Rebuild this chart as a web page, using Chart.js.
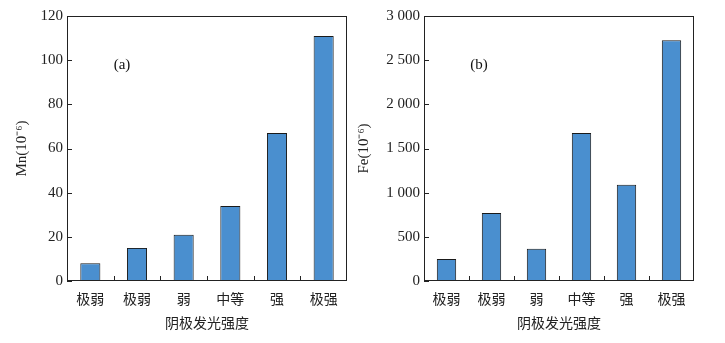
<!DOCTYPE html>
<html>
<head>
<meta charset="utf-8">
<script src="https://cdn.jsdelivr.net/npm/chart.js@4"></script>
<style>
  body { margin: 0; background: #fff; width: 725px; height: 343px; position: relative; overflow: hidden; }
  .box { position: absolute; top: 0; height: 343px; }
</style>
</head>
<body>
<div class="box" style="left:0;width:350px"><canvas id="chartMn"></canvas></div>
<div class="box" style="left:350px;width:375px"><canvas id="chartFe"></canvas></div>
<script>
// categories (cathodoluminescence intensity)
const categories = ['极弱', '极弱', '弱', '中等', '强', '极强'];

// values
const mnValues = [8, 15, 21, 34, 67, 111];
const feValues = [250, 770, 365, 1675, 1090, 2725];

const xTitle = '阴极发光强度';
const serif = '"Liberation Serif", "Noto Sans CJK SC", serif';
const cjk = '"Noto Sans CJK SC", "Liberation Serif", serif';

// frame box, inward ticks and the (a)/(b) letter
const frameTicks = {
  id: 'frameTicks',
  afterDatasetsDraw(chart, args, opts) {
    const {ctx, chartArea: a, scales: {x, y}} = chart;
    ctx.save();
    ctx.strokeStyle = '#222';
    ctx.lineWidth = 1;
    ctx.strokeRect(Math.round(a.left) + 0.5, Math.round(a.top) + 0.5,
                   Math.round(a.width) - 1, Math.round(a.height) - 1);
    ctx.beginPath();
    y.ticks.forEach(t => {
      const py = Math.round(y.getPixelForValue(t.value)) + 0.5;
      ctx.moveTo(a.left, py);
      ctx.lineTo(a.left + 5, py);
    });
    for (let i = 1; i < categories.length; i++) {
      const px = Math.round((x.getPixelForValue(i - 1) + x.getPixelForValue(i)) / 2) + 0.5;
      ctx.moveTo(px, a.bottom);
      ctx.lineTo(px, a.bottom - 5);
    }
    ctx.stroke();
    ctx.fillStyle = '#111';
    ctx.font = '15px ' + serif;
    ctx.textAlign = 'center';
    ctx.textBaseline = 'middle';
    ctx.fillText(opts.letter, a.left + 55, a.top + 49);
    ctx.restore();
  }
};

// yWidth / rightPad pin the plot area: Mn 67..347, Fe 424..694 (page coords)
function makeChart(id, values, yMax, yStep, yLabel, titlePad, yWidth, rightPad, letter) {
  const ctx = document.getElementById(id).getContext('2d');
  return new Chart(ctx, {
    type: 'bar',
    data: {
      labels: categories,
      datasets: [{
        data: values,
        backgroundColor: '#4a8fcf',
        borderColor: '#1a1a1a',
        borderWidth: 1,
        borderSkipped: false,
        categoryPercentage: 1,
        barPercentage: 0.43
      }]
    },
    options: {
      responsive: true,
      maintainAspectRatio: false,
      animation: false,
      layout: { padding: { top: 16, right: rightPad, bottom: 0, left: 0 } },
      plugins: {
        legend: { display: false },
        tooltip: { enabled: false },
        frameTicks: { letter: letter }
      },
      scales: {
        x: {
          grid: { display: false, drawTicks: false },
          border: { display: false },
          ticks: { color: '#222', font: { family: cjk, size: 14 }, padding: 9 },
          title: { display: true, text: xTitle, color: '#222',
                   font: { family: cjk, size: 14 }, padding: { top: 0, bottom: 12 } },
          afterFit(scale) { scale.height = 62; }
        },
        y: {
          min: 0,
          max: yMax,
          grid: { display: false, drawTicks: false },
          border: { display: false },
          ticks: {
            stepSize: yStep,
            color: '#222',
            padding: 4,
            font: { family: serif, size: 15 },
            callback: v => String(v).replace(/\B(?=(\d{3})+(?!\d))/g, ' ')
          },
          title: { display: true, text: yLabel, color: '#222',
                   font: { family: serif, size: 15 }, padding: { top: titlePad, bottom: 0 } },
          afterFit(scale) { scale.width = yWidth; }
        }
      }
    },
    plugins: [frameTicks]
  });
}

makeChart('chartMn', mnValues, 120, 20, 'Mn(10⁻⁶)', 13, 67, 3, '(a)');
makeChart('chartFe', feValues, 3000, 500, 'Fe(10⁻⁶)', 5, 74, 31, '(b)');
</script>
</body>
</html>
